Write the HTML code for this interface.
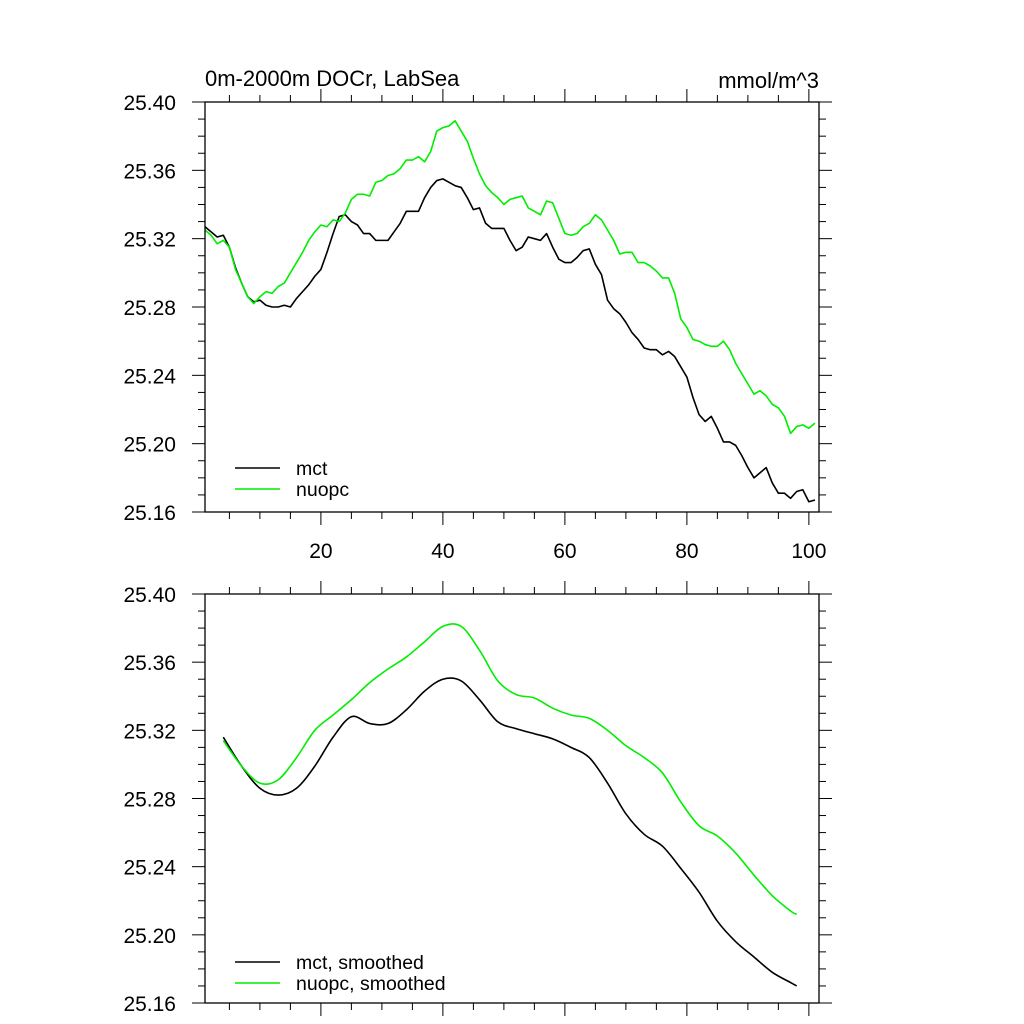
<!DOCTYPE html>
<html><head><meta charset="utf-8">
<style>
html,body{margin:0;padding:0;background:#fff;}
svg{display:block;}
text{font-family:"Liberation Sans",sans-serif;fill:#000;}
</style></head>
<body>
<svg id="chart" width="1024" height="1024" viewBox="0 0 1024 1024"></svg>
<script>
// ---- data ----
const rawX = Array.from({length:101},(_, k)=>k+1);
const mctRaw = [25.327,25.324,25.321,25.322,25.315,25.303,25.294,25.286,25.283,25.284,
25.281,25.280,25.280,25.281,25.280,25.285,25.289,25.293,25.298,25.302,
25.312,25.323,25.333,25.334,25.330,25.328,25.323,25.323,25.319,25.319,
25.319,25.324,25.329,25.336,25.336,25.336,25.344,25.350,25.354,25.355,
25.353,25.351,25.350,25.344,25.337,25.338,25.329,25.326,25.326,25.326,
25.319,25.313,25.315,25.321,25.320,25.319,25.323,25.315,25.308,25.306,
25.306,25.309,25.313,25.314,25.305,25.299,25.284,25.279,25.276,25.271,
25.265,25.261,25.256,25.255,25.255,25.252,25.254,25.251,25.245,25.239,
25.227,25.217,25.213,25.216,25.209,25.201,25.201,25.199,25.193,25.186,
25.180,25.183,25.186,25.177,25.171,25.171,25.168,25.172,25.173,25.166,25.167];
const nuopcRaw = [25.325,25.322,25.317,25.319,25.315,25.302,25.294,25.286,25.282,25.286,
25.289,25.288,25.292,25.294,25.300,25.306,25.312,25.319,25.324,25.328,
25.327,25.331,25.330,25.335,25.343,25.346,25.346,25.345,25.353,25.354,
25.357,25.358,25.361,25.366,25.366,25.368,25.365,25.371,25.383,25.385,
25.386,25.389,25.383,25.377,25.367,25.358,25.351,25.347,25.344,25.340,
25.343,25.344,25.345,25.338,25.336,25.334,25.342,25.341,25.332,25.323,
25.322,25.323,25.327,25.329,25.334,25.331,25.325,25.319,25.311,25.312,
25.312,25.306,25.306,25.304,25.301,25.297,25.297,25.288,25.273,25.268,
25.261,25.260,25.258,25.257,25.257,25.260,25.255,25.247,25.241,25.235,
25.229,25.231,25.228,25.223,25.221,25.216,25.206,25.210,25.211,25.209,25.212];
const smoothX = [4,7,10,13,16,19,22,25,28,31,34,37,40,43,46,49,52,55,58,61,64,67,70,73,76,79,82,85,88,91,94,97,98];
const mctSmooth = [25.316,25.299,25.286,25.282,25.286,25.299,25.316,25.328,25.324,25.324,25.332,25.343,25.350,25.349,25.338,25.325,
25.321,25.318,25.315,25.310,25.304,25.289,25.271,25.259,25.252,25.239,25.225,25.208,25.196,25.187,25.178,25.172,25.170];
const nuopcSmooth = [25.314,25.299,25.289,25.291,25.304,25.320,25.329,25.338,25.348,25.356,25.363,25.372,25.381,25.381,25.367,25.349,
25.341,25.339,25.333,25.329,25.327,25.320,25.311,25.304,25.295,25.278,25.264,25.258,25.248,25.235,25.223,25.214,25.212];
const yTicks = [25.16,25.20,25.24,25.28,25.32,25.36,25.40];
const yTickLabels = ["25.16","25.20","25.24","25.28","25.32","25.36","25.40"];
const xTicks = [20,40,60,80,100];
const xTickLabels = ["20","40","60","80","100"];

const NS="http://www.w3.org/2000/svg";
const svg=document.getElementById('chart');
function mk(tag,attrs,parent){const e=document.createElementNS(NS,tag);for(const k in attrs)e.setAttribute(k,attrs[k]);(parent||svg).appendChild(e);return e;}

const L=205,R=819,XMIN=1,XMAX=101.66,YMIN=25.16,YMAX=25.40;
function xs(v){return L+(v-XMIN)/(XMAX-XMIN)*(R-L);}

function linePath(pts){return pts.map((p,k)=>(k?'L':'M')+p[0].toFixed(2)+' '+p[1].toFixed(2)).join(' ');}
function smoothPath(pts){
  let d='M'+pts[0][0].toFixed(2)+' '+pts[0][1].toFixed(2);
  for(let i=0;i<pts.length-1;i++){
    const p0=pts[Math.max(0,i-1)],p1=pts[i],p2=pts[i+1],p3=pts[Math.min(pts.length-1,i+2)];
    const c1=[p1[0]+(p2[0]-p0[0])/6,p1[1]+(p2[1]-p0[1])/6];
    const c2=[p2[0]-(p3[0]-p1[0])/6,p2[1]-(p3[1]-p1[1])/6];
    d+=' C'+c1[0].toFixed(2)+' '+c1[1].toFixed(2)+' '+c2[0].toFixed(2)+' '+c2[1].toFixed(2)+' '+p2[0].toFixed(2)+' '+p2[1].toFixed(2);
  }
  return d;
}

function panel(top,bot,name,showXLabels,series,legend,smooth){
  const g=mk('g',{});
  
  
  const ys=v=>bot-(v-YMIN)/(YMAX-YMIN)*(bot-top);
  for(let v=0;v<=24;v++){
    const val=YMIN+v*0.01, y=ys(val), major=v%4===0, len=major?13:7;
    mk('line',{x1:L-len,y1:y,x2:L,y2:y,stroke:'#000','stroke-width':1},g);
    mk('line',{x1:R,y1:y,x2:R+len,y2:y,stroke:'#000','stroke-width':1},g);
  }
  for(let v=5;v<=100;v+=5){
    const x=xs(v), major=v%20===0, len=major?13:7;
    mk('line',{x1:x,y1:top-len,x2:x,y2:top,stroke:'#000','stroke-width':1},g);
    mk('line',{x1:x,y1:bot,x2:x,y2:bot+len,stroke:'#000','stroke-width':1},g);
  }
  yTicks.forEach((v,k)=>{
    const t=mk('text',{x:176,y:ys(v)+8,'text-anchor':'end','font-size':21},g);
    t.textContent=yTickLabels[k];
    
    
  });
  if(showXLabels){
    xTicks.forEach((v,k)=>{
      const t=mk('text',{x:xs(v),y:bot+46,'text-anchor':'middle','font-size':21},g);
      t.textContent=xTickLabels[k];
      
      
    });
  }
  series.forEach(s=>{
    const pts=s.xv.map((x,k)=>[xs(x),ys(s.yv[k])]);
    const p=mk('path',{d:smooth?smoothPath(pts):linePath(pts),fill:'none',stroke:s.color,'stroke-width':1.6,'stroke-linejoin':'round'},g);
    
    
  });
  mk('rect',{x:L,y:top,width:R-L,height:bot-top,fill:'none',stroke:'#000','stroke-width':1.3},g);
  legend.forEach(it=>{
    const y=it.y;
    const ln=mk('line',{x1:235,y1:y,x2:280,y2:y,stroke:it.color,'stroke-width':1.6},g);
    
    
    const t=mk('text',{x:296,y:y+7,'font-size':19.5},g);
    t.textContent=it.label;
    
    
  });
}

panel(102,512,'top-panel',true,[
  {xv:rawX,yv:mctRaw,color:'#000',name:'mct-line'},
  {xv:rawX,yv:nuopcRaw,color:'#00ee00',name:'nuopc-line'}
],[{y:468,color:'#000',label:'mct'},{y:489,color:'#00ee00',label:'nuopc'}],false);

panel(594,1003,'bottom-panel',false,[
  {xv:smoothX,yv:mctSmooth,color:'#000',name:'mct-smoothed-line'},
  {xv:smoothX,yv:nuopcSmooth,color:'#00ee00',name:'nuopc-smoothed-line'}
],[{y:962,color:'#000',label:'mct, smoothed'},{y:983,color:'#00ee00',label:'nuopc, smoothed'}],true);

const t1=mk('text',{x:205,y:86,'font-size':22});
t1.textContent='0m-2000m DOCr, LabSea';


const t2=mk('text',{x:819,y:88,'font-size':22,'text-anchor':'end'});
t2.textContent='mmol/m^3';


</script>
</body></html>
